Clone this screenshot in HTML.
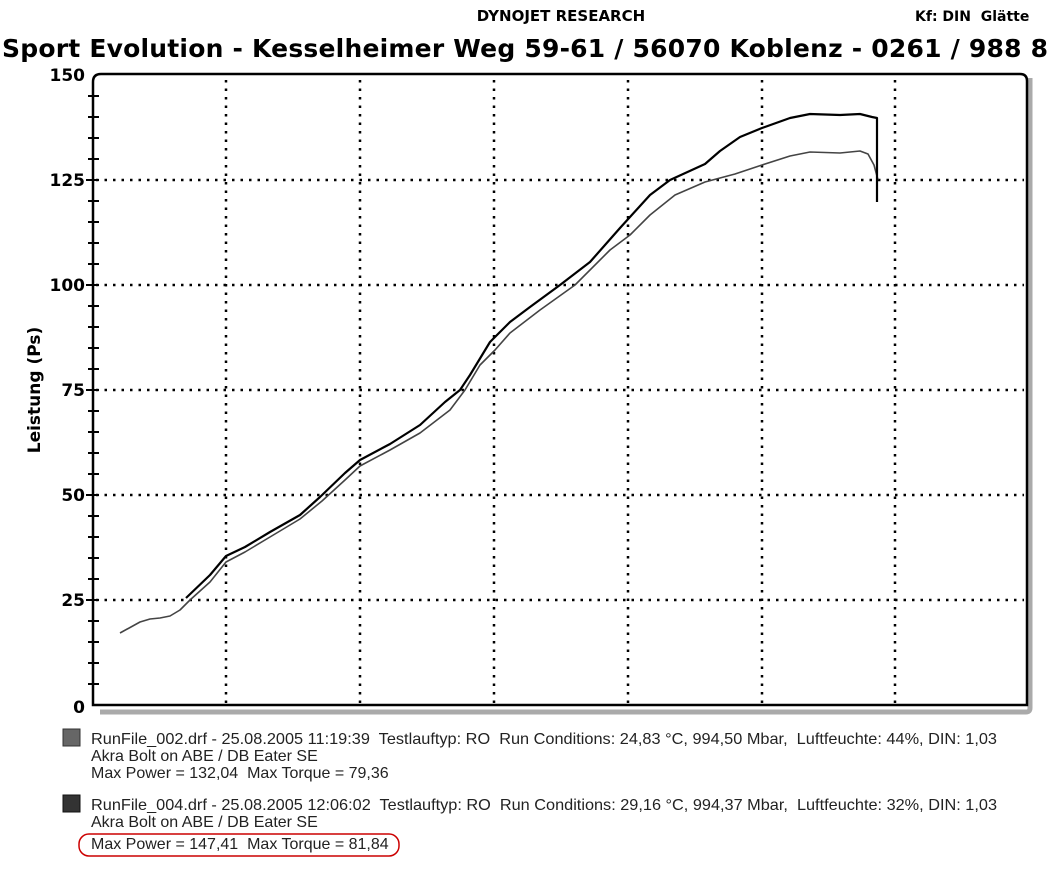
<!DOCTYPE html>
<html><head><meta charset="utf-8"><style>
body{margin:0;background:#fff;width:1052px;height:873px;overflow:hidden;font-family:"DejaVu Sans",sans-serif}
text{white-space:pre}
</style></head><body>
<svg width="1052" height="873" xmlns="http://www.w3.org/2000/svg" xml:space="preserve">
<text x="561" y="21" font-family="DejaVu Sans" font-weight="bold" font-size="15" text-anchor="middle">DYNOJET RESEARCH</text>
<text x="915" y="21" font-family="DejaVu Sans" font-weight="bold" font-size="14">Kf: DIN  Glätte</text>
<text x="2" y="57" font-family="DejaVu Sans" font-weight="bold" font-size="25" textLength="1046" lengthAdjust="spacing">Sport Evolution - Kesselheimer Weg 59-61 / 56070 Koblenz - 0261 / 988 8</text>
<path d="M1030 78 V708 Q1030 712 1026 712 H100" stroke="#aaa" stroke-width="5" fill="none"/>
<path d="M93 705 V82 Q93 74 101 74 H1020 Q1027 74 1027 81 V705 Z" stroke="#000" stroke-width="2.5" fill="none"/>
<g stroke="#000" stroke-width="2.5" stroke-dasharray="2.5 6">
<line x1="226" y1="80" x2="226" y2="704"/><line x1="360" y1="80" x2="360" y2="704"/><line x1="494" y1="80" x2="494" y2="704"/><line x1="628" y1="80" x2="628" y2="704"/><line x1="762" y1="80" x2="762" y2="704"/><line x1="895" y1="80" x2="895" y2="704"/>
<line x1="96" y1="180" x2="1024" y2="180"/><line x1="96" y1="285" x2="1024" y2="285"/><line x1="96" y1="390" x2="1024" y2="390"/><line x1="96" y1="495" x2="1024" y2="495"/><line x1="96" y1="600" x2="1024" y2="600"/>
</g>
<g stroke="#000" stroke-width="2">
<path d="M88 96H99M88 117H99M88 138H99M88 159H99M86 180H99M88 201H99M88 222H99M88 243H99M88 264H99M86 285H99M88 306H99M88 327H99M88 348H99M88 369H99M86 390H99M88 411H99M88 432H99M88 453H99M88 474H99M86 495H99M88 516H99M88 537H99M88 558H99M88 579H99M86 600H99M88 621H99M88 642H99M88 663H99M88 684H99"/>
</g>
<g font-family="DejaVu Sans" font-weight="bold" font-size="17" text-anchor="end">
<text x="85" y="81">150</text><text x="85" y="186">125</text><text x="85" y="291">100</text><text x="85" y="396">75</text><text x="85" y="501">50</text><text x="85" y="606">25</text><text x="85" y="713">0</text>
</g>
<text transform="translate(40,390) rotate(-90)" font-family="DejaVu Sans" font-weight="bold" font-size="17" text-anchor="middle">Leistung (Ps)</text>
<polyline fill="none" stroke="#444" stroke-width="1.6" stroke-linejoin="round" points="120,633 140,622 150,619 160,618 170,616 180,610 190,600 210,582 226,562 245,552 270,537 300,519 322,501 345,480 360,466 390,450 420,433 450,410 465,390 480,365 495,350 510,333 540,310 575,285 610,250 630,235 650,215 675,195 705,182 735,174 762,165 790,156 810,152 840,153 860,151 868,154 874,165 878,180"/>
<polyline fill="none" stroke="#000" stroke-width="2.2" stroke-linejoin="round" points="186,598 210,575 226,556 245,547 270,532 300,515 320,497 345,473 360,460 390,444 420,425 445,402 460,390 470,375 490,342 510,322 530,307 560,285 590,262 620,228 650,195 670,180 705,164 720,151 740,137 762,128 790,118 810,114 840,115 860,114 872,117 877,118 877,202"/>
<rect x="63" y="729" width="17" height="17" fill="#666" stroke="#333"/>
<rect x="63" y="795" width="17" height="17" fill="#333" stroke="#111"/>
<g font-family="Liberation Sans" font-size="16" fill="#222">
<text x="91" y="744" textLength="906" lengthAdjust="spacingAndGlyphs">RunFile_002.drf - 25.08.2005 11:19:39  Testlauftyp: RO  Run Conditions: 24,83 °C, 994,50 Mbar,  Luftfeuchte: 44%, DIN: 1,03</text>
<text x="91" y="761">Akra Bolt on ABE / DB Eater SE</text>
<text x="91" y="778">Max Power = 132,04  Max Torque = 79,36</text>
<text x="91" y="810" textLength="906" lengthAdjust="spacingAndGlyphs">RunFile_004.drf - 25.08.2005 12:06:02  Testlauftyp: RO  Run Conditions: 29,16 °C, 994,37 Mbar,  Luftfeuchte: 32%, DIN: 1,03</text>
<text x="91" y="827">Akra Bolt on ABE / DB Eater SE</text>
<text x="91" y="849">Max Power = 147,41  Max Torque = 81,84</text>
</g>
<rect x="79" y="834" width="320" height="22" rx="10" fill="none" stroke="#c00" stroke-width="1.5"/>
</svg>
</body></html>
